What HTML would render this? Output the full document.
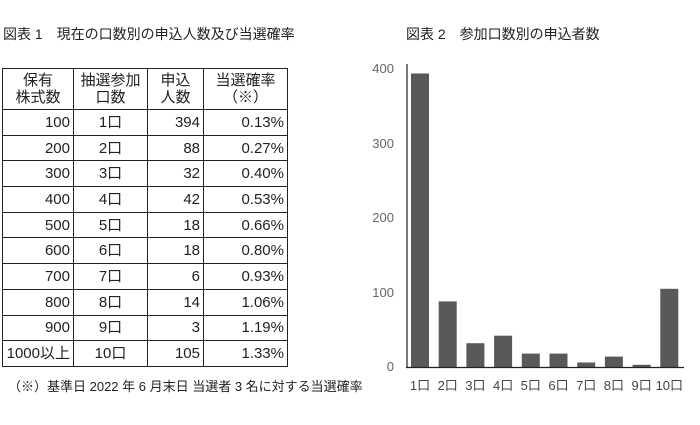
<html><head><style>
body{margin:0;background:#fff;width:700px;height:425px;overflow:hidden;font-family:"Liberation Sans","Noto Sans CJK JP",sans-serif;color:#222;position:relative}
.t{position:absolute;font-size:14px;white-space:nowrap}
table{position:absolute;left:2px;top:68px;border-collapse:collapse;font-size:15px}
td{border:1px solid #222;padding:0 3px;height:25.7px;line-height:17px}
tr.h td{height:41px;text-align:center}
</style></head><body>
<div class="t" style="left:3px;top:24px">図表 1　現在の口数別の申込人数及び当選確率</div>
<div class="t" style="left:406px;top:24px">図表 2　参加口数別の申込者数</div>
<table>
<colgroup><col style="width:71px"><col style="width:74px"><col style="width:56px"><col style="width:84px"></colgroup>
<tr class="h"><td>保有<br>株式数</td><td>抽選参加<br>口数</td><td>申込<br>人数</td><td>当選確率<br>（※）</td></tr>
<tr><td align="right">100</td><td align="center">1口</td><td align="right">394</td><td align="right">0.13%</td></tr>
<tr><td align="right">200</td><td align="center">2口</td><td align="right">88</td><td align="right">0.27%</td></tr>
<tr><td align="right">300</td><td align="center">3口</td><td align="right">32</td><td align="right">0.40%</td></tr>
<tr><td align="right">400</td><td align="center">4口</td><td align="right">42</td><td align="right">0.53%</td></tr>
<tr><td align="right">500</td><td align="center">5口</td><td align="right">18</td><td align="right">0.66%</td></tr>
<tr><td align="right">600</td><td align="center">6口</td><td align="right">18</td><td align="right">0.80%</td></tr>
<tr><td align="right">700</td><td align="center">7口</td><td align="right">6</td><td align="right">0.93%</td></tr>
<tr><td align="right">800</td><td align="center">8口</td><td align="right">14</td><td align="right">1.06%</td></tr>
<tr><td align="right">900</td><td align="center">9口</td><td align="right">3</td><td align="right">1.19%</td></tr>
<tr><td align="right">1000以上</td><td align="center">10口</td><td align="right">105</td><td align="right">1.33%</td></tr>
</table>
<div class="t" style="left:8px;top:376px;font-size:13px">（※）基準日 2022 年 6 月末日  当選者 3 名に対する当選確率</div>
<svg style="position:absolute;left:0;top:0" width="700" height="425" font-family="Liberation Sans, Noto Sans CJK JP, sans-serif" font-size="13">
<g fill="#666" text-anchor="end">
<text x="394" y="73">400</text><text x="394" y="148">300</text><text x="394" y="222">200</text><text x="394" y="297">100</text><text x="394" y="371">0</text>
</g>
<g fill="#595959">
<rect x="411" y="73.5" width="18" height="293.5"/>
<rect x="438.7" y="301.4" width="18" height="65.6"/>
<rect x="466.4" y="343.2" width="18" height="23.8"/>
<rect x="494.1" y="335.7" width="18" height="31.3"/>
<rect x="521.8" y="353.6" width="18" height="13.4"/>
<rect x="549.5" y="353.6" width="18" height="13.4"/>
<rect x="577.2" y="362.5" width="18" height="4.5"/>
<rect x="604.9" y="356.6" width="18" height="10.4"/>
<rect x="632.6" y="364.8" width="18" height="2.2"/>
<rect x="660.3" y="288.8" width="18" height="78.2"/>
</g>
<line x1="407" y1="64" x2="407" y2="368" stroke="#222" stroke-width="1.2"/>
<line x1="406" y1="367.5" x2="684" y2="367.5" stroke="#222" stroke-width="1.2"/>
<g fill="#444" text-anchor="middle">
<text x="420" y="390">1口</text><text x="447.7" y="390">2口</text><text x="475.4" y="390">3口</text><text x="503.1" y="390">4口</text><text x="530.8" y="390">5口</text><text x="558.5" y="390">6口</text><text x="586.2" y="390">7口</text><text x="613.9" y="390">8口</text><text x="641.6" y="390">9口</text><text x="669.3" y="390">10口</text>
</g>
</svg>
</body></html>
